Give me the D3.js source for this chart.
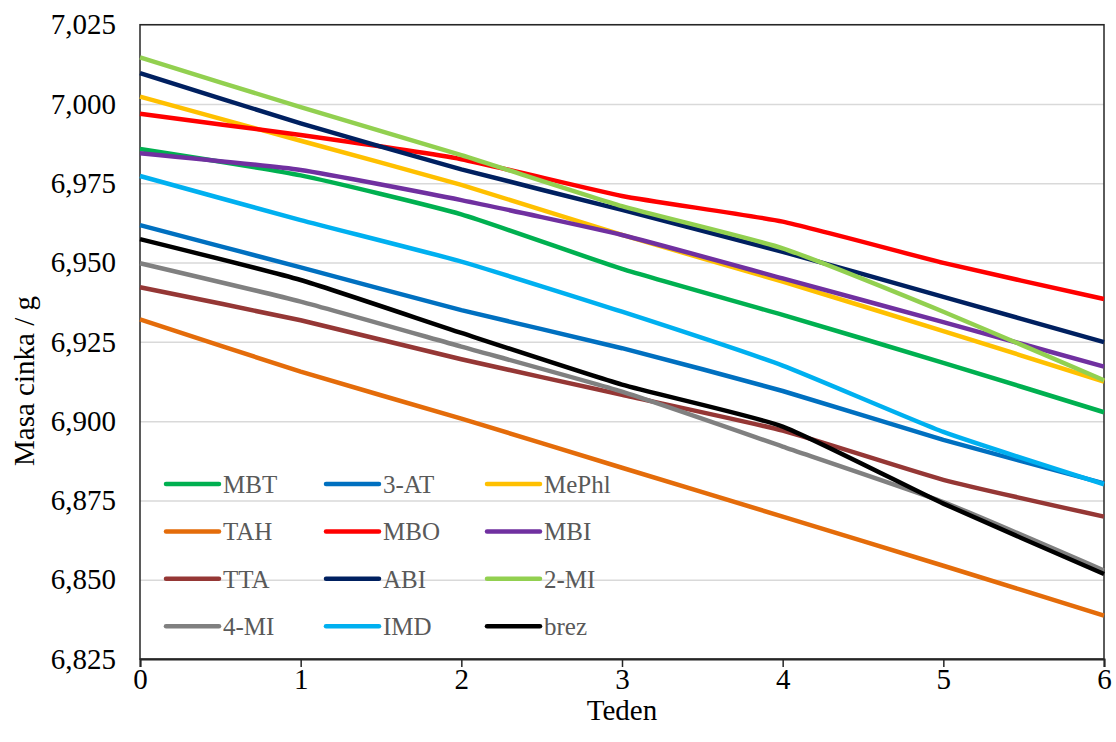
<!DOCTYPE html>
<html>
<head>
<meta charset="utf-8">
<script src="https://cdn.jsdelivr.net/npm/d3@7"></script>
<style>
  body { margin: 0; background: #fff; }
  svg text { font-family: "Liberation Serif", "Times New Roman", serif; }
</style>
</head>
<body>
<svg id="chart" width="1116" height="742"></svg>
<script>
// weeks on the x axis
var weeks = [0, 1, 2, 3, 4, 5, 6];
var yTicks = [6.825, 6.850, 6.875, 6.900, 6.925, 6.950, 6.975, 7.000, 7.025];

// series
var names = ["MBT", "3-AT", "MePhl", "TAH", "MBO", "MBI", "TTA", "ABI", "2-MI", "4-MI", "IMD", "brez"];
var colors = ["#00B050", "#0070C0", "#FFC000", "#E46C0A", "#FF0000", "#7030A0", "#953735", "#002060", "#92D050", "#808080", "#00B0F0", "#000000"];

var MBT   = [6.9858, 6.9775, 6.9652, 6.9480, 6.9335, 6.9184, 6.9028];
var AT3   = [6.9618, 6.9485, 6.9350, 6.9230, 6.9095, 6.8941, 6.8804];
var MePhl = [7.0023, 6.9884, 6.9745, 6.9587, 6.9440, 6.9284, 6.9125];
var TAH   = [6.9321, 6.9156, 6.9008, 6.8853, 6.8699, 6.8544, 6.8387];
var MBO   = [6.9969, 6.9902, 6.9826, 6.9710, 6.9629, 6.9499, 6.9385];
var MBI   = [6.9845, 6.9792, 6.9697, 6.9587, 6.9450, 6.9312, 6.9172];
var TTA   = [6.9422, 6.9318, 6.9195, 6.9083, 6.8970, 6.8815, 6.8699];
var ABI   = [7.0097, 6.9939, 6.9794, 6.9666, 6.9534, 6.9392, 6.9249];
var MI2   = [7.0147, 6.9990, 6.9839, 6.9678, 6.9545, 6.9345, 6.9129];
var MI4   = [6.9498, 6.9377, 6.9235, 6.9093, 6.8920, 6.8745, 6.8529];
var IMD   = [6.9773, 6.9634, 6.9503, 6.9345, 6.9175, 6.8966, 6.8801];
var brez  = [6.9574, 6.9445, 6.9278, 6.9115, 6.8983, 6.8740, 6.8518];

var values = [MBT, AT3, MePhl, TAH, MBO, MBI, TTA, ABI, MI2, MI4, IMD, brez];

var svg = d3.select("#chart");
var pLeft = 140, pRight = 1104, pTop = 24.7, pBottom = 659;

var x = d3.scaleLinear().domain([0, 6]).range([pLeft, pRight]);
var y = d3.scaleLinear().domain([6.825, 7.025]).range([pBottom, pTop]);

var fmt = function(d) { return d3.format(".3f")(d).replace(".", ","); };

// gridlines
svg.append("g")
    .attr("transform", "translate(" + pLeft + ",0)")
    .call(d3.axisLeft(y).tickValues(yTicks).tickSize(-(pRight - pLeft)).tickFormat(""))
    .call(g => g.select(".domain").remove())
    .call(g => g.selectAll("line").attr("stroke", "#D9D9D9").attr("stroke-width", 1.5));

// y tick labels
svg.append("g")
    .attr("transform", "translate(" + pLeft + ",0)")
    .call(d3.axisLeft(y).tickValues(yTicks).tickSize(0).tickPadding(24).tickFormat(fmt))
    .call(g => g.select(".domain").remove())
    .call(g => g.selectAll("text").attr("font-size", 29).attr("fill", "#000")
        .attr("font-family", "'Liberation Serif', 'Times New Roman', serif"));

// plot border
svg.append("rect")
    .attr("x", pLeft).attr("y", pTop)
    .attr("width", pRight - pLeft).attr("height", pBottom - pTop)
    .attr("fill", "none").attr("stroke", "#262626").attr("stroke-width", 1.5);

// lines (lightly smoothed)
var line = d3.line()
    .x((d, i) => x(weeks[i]))
    .y(d => y(d))
    .curve(d3.curveCardinal.tension(0.5));

svg.append("g").selectAll("path")
    .data(values).enter().append("path")
    .attr("d", d => line(d))
    .attr("fill", "none")
    .attr("stroke", (d, i) => colors[i])
    .attr("stroke-width", 4.5)
    .attr("stroke-linejoin", "round");

// x axis
svg.append("g")
    .attr("transform", "translate(0," + pBottom + ")")
    .call(d3.axisBottom(x).tickValues(weeks).tickSize(8).tickPadding(1).tickFormat(d3.format("d")))
    .call(g => g.select(".domain").attr("stroke", "#262626").attr("stroke-width", 2))
    .call(g => g.selectAll("line").attr("stroke", "#262626").attr("stroke-width", 1.5))
    .call(g => g.selectAll("text").attr("font-size", 29).attr("fill", "#000")
        .attr("font-family", "'Liberation Serif', 'Times New Roman', serif"));

// axis titles
svg.append("text")
    .attr("x", 622).attr("y", 720)
    .attr("text-anchor", "middle")
    .attr("font-size", 29)
    .text("Teden");

svg.append("text")
    .attr("transform", "translate(34,381) rotate(-90)")
    .attr("text-anchor", "middle")
    .attr("font-size", 29)
    .text("Masa cinka / g");

// legend, 3 columns x 4 rows
var legX = [166, 326, 487], legY0 = 484, legDy = 47.4;
var leg = svg.append("g").selectAll("g")
    .data(names).enter().append("g")
    .attr("transform", (d, i) => "translate(" + legX[i % 3] + "," + (legY0 + Math.floor(i / 3) * legDy) + ")");

leg.append("line")
    .attr("x1", 0).attr("x2", 53)
    .attr("stroke", (d, i) => colors[i])
    .attr("stroke-width", 4.5)
    .attr("stroke-linecap", "round");

leg.append("text")
    .attr("x", 57).attr("y", 9)
    .attr("font-size", 25)
    .attr("fill", "#595959")
    .text(d => d);
</script>
</body>
</html>
